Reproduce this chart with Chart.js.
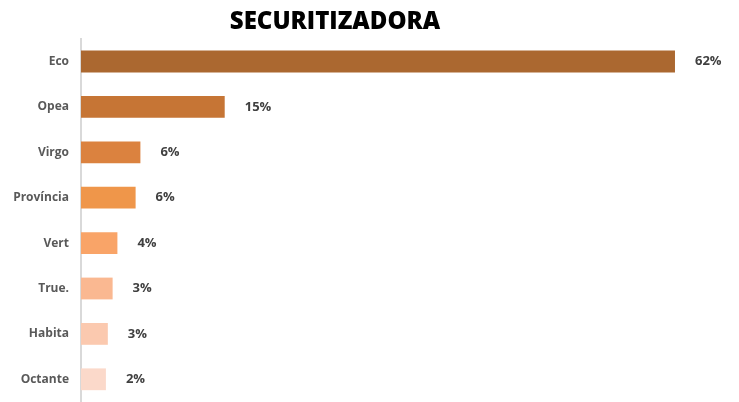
<!DOCTYPE html>
<html>
<head>
<meta charset="utf-8">
<script src="https://cdn.jsdelivr.net/npm/chart.js@4/dist/chart.umd.min.js"></script>
<style>
html,body{margin:0;padding:0;background:#fff;}
#wrap{width:739px;height:402px;}
</style>
</head>
<body>
<div id="wrap"><canvas id="c" width="739" height="402"></canvas></div>
<script>
const categories = ["Eco", "Opea", "Virgo", "Província", "Vert", "True.", "Habita", "Octante"];
const shares = [62, 15.0, 6.2, 5.7, 3.8, 3.3, 2.8, 2.6];
const shareLabels = ["62%", "15%", "6%", "6%", "4%", "3%", "3%", "2%"];
const barColors = ["#AB6830", "#C67535", "#DB823F", "#EF964A", "#F9A468", "#FAB891", "#FBC9AF", "#FBD9CA"];

const valueLabels = {
  id: 'valueLabels',
  afterDatasetsDraw(chart) {
    const ctx = chart.ctx;
    const meta = chart.getDatasetMeta(0);
    ctx.save();
    ctx.font = "bold 13px 'Open Sans', sans-serif";
    ctx.fillStyle = "#404040";
    ctx.textAlign = "left";
    ctx.textBaseline = "middle";
    meta.data.forEach((bar, i) => {
      ctx.fillText(shareLabels[i], bar.x + 20, bar.y);
    });
    ctx.restore();
  }
};

new Chart(document.getElementById('c'), {
  type: 'bar',
  data: {
    labels: categories,
    datasets: [{
      data: shares,
      backgroundColor: barColors,
      borderWidth: 0,
      barPercentage: 0.48,
      categoryPercentage: 1,
      clip: false
    }]
  },
  options: {
    indexAxis: 'y',
    responsive: false,
    animation: false,
    devicePixelRatio: 1,
    layout: { padding: { left: 0, right: 69, top: 0, bottom: -5 } },
    plugins: {
      legend: { display: false },
      tooltip: { enabled: false },
      title: {
        display: true,
        text: 'SECURITIZADORA',
        color: '#000',
        font: { family: "'Open Sans', sans-serif", size: 24, weight: '800' },
        padding: { top: 8, bottom: 2 }
      }
    },
    scales: {
      x: {
        display: false,
        min: 0,
        max: 61.48
      },
      y: {
        grid: { display: false, drawTicks: false },
        border: { display: true, color: '#D9D9D9', width: 2 },
        ticks: {
          color: '#595959',
          padding: 12,
          font: { family: "'Open Sans', sans-serif", size: 12, weight: '700' }
        },
        afterFit(scale) {
          scale.width = 81;
          scale.paddingTop = 0;
          scale.paddingBottom = 0;
        }
      }
    }
  },
  plugins: [valueLabels]
});
</script>
</body>
</html>
